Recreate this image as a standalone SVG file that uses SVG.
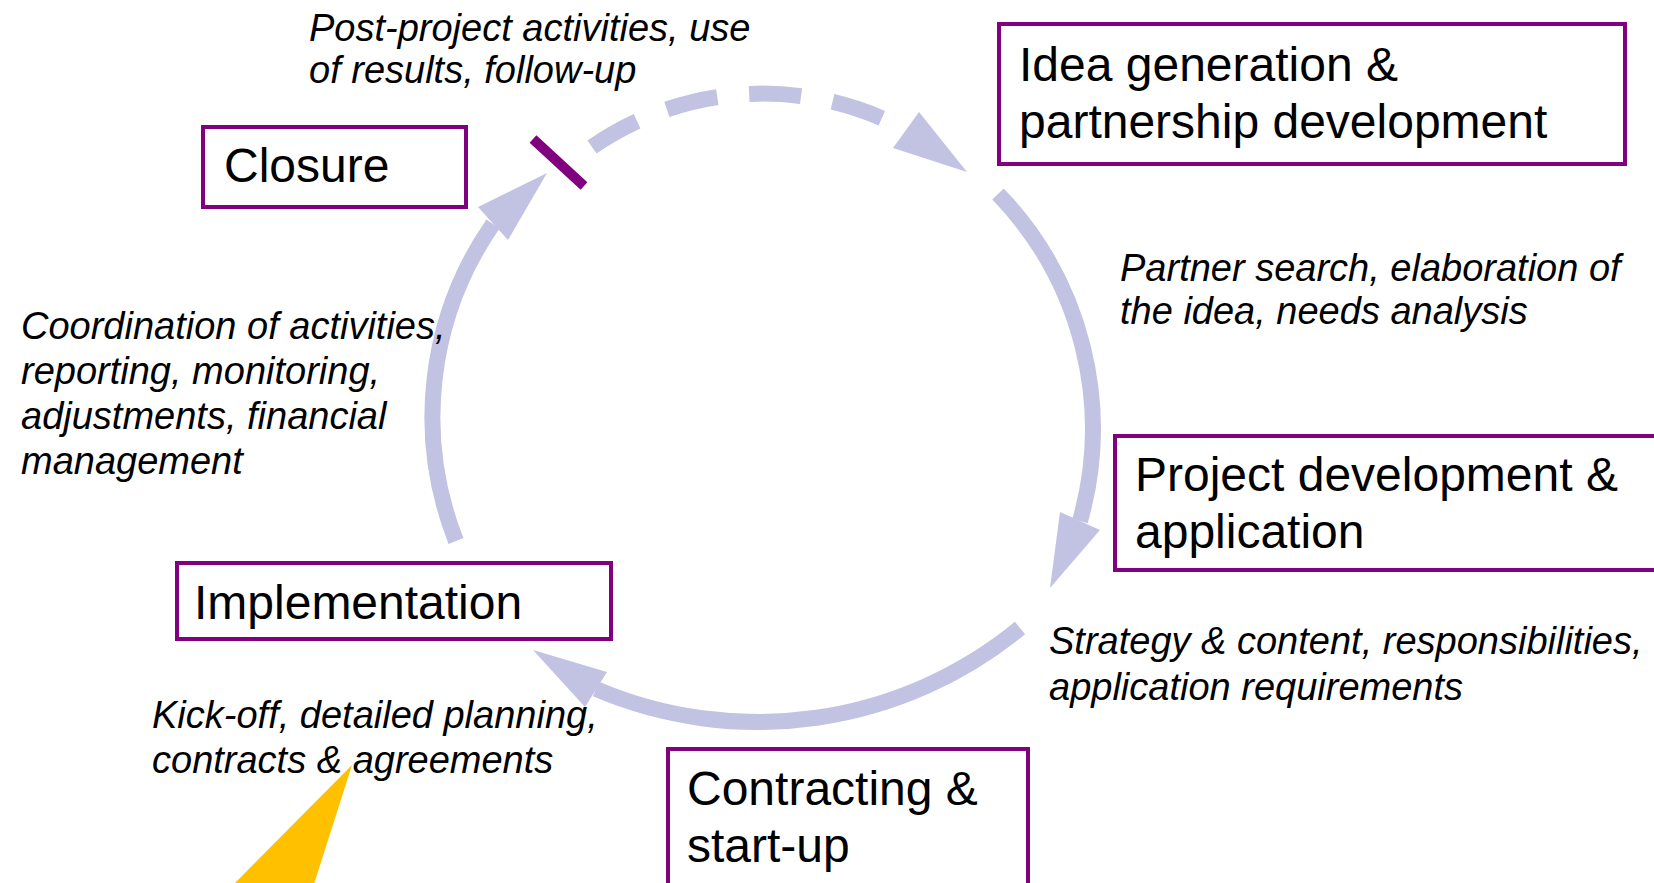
<svg xmlns="http://www.w3.org/2000/svg" width="1654" height="883" viewBox="0 0 1654 883">
<style>
.box{fill:#ffffff;stroke:#800080;stroke-width:4}
.t{font-family:"Liberation Sans",Arial,sans-serif;font-size:48px;fill:#000000}
.n{font-family:"Liberation Sans",Arial,sans-serif;font-size:38px;font-style:italic;fill:#000000}
.arc{fill:none;stroke:#C2C2E2;stroke-width:16}
.dash{stroke-dasharray:52 32}
.ah{fill:#C2C2E2}
</style>
<rect x="0" y="0" width="1654" height="883" fill="#ffffff"/>
<g id="connectors">
  <path class="arc dash" d="M592,147 A300,300 0 0,1 906,130"/>
  <polygon class="ah" points="967,172 919,112 893,148"/>
  <path class="arc" d="M998,194 A338,338 0 0,1 1080,521"/>
  <polygon class="ah" points="1050,588 1060,512 1100,530"/>
  <path class="arc" d="M1020,628 A413,413 0 0,1 596,689"/>
  <polygon class="ah" points="533,650 607,672 585,707"/>
  <path class="arc" d="M456,541 A338,338 0 0,1 493,224"/>
  <polygon class="ah" points="547,173 478,207 508,240"/>
  <line x1="533" y1="139" x2="584" y2="186" stroke="#800080" stroke-width="10"/>
</g>
<g id="closure">
  <rect class="box" x="203" y="127" width="263" height="80"/>
  <text class="t" x="224" y="182">Closure</text>
</g>
<g id="idea">
  <rect class="box" x="999" y="24" width="626" height="140"/>
  <text class="t" x="1019" y="81">Idea generation &amp;</text>
  <text class="t" x="1019" y="138">partnership development</text>
</g>
<g id="project">
  <rect class="box" x="1115" y="436" width="600" height="134"/>
  <text class="t" x="1135" y="491">Project development &amp;</text>
  <text class="t" x="1135" y="548">application</text>
</g>
<g id="contracting">
  <rect class="box" x="668" y="749" width="360" height="200"/>
  <text class="t" x="687" y="805">Contracting &amp;</text>
  <text class="t" x="687" y="862">start-up</text>
</g>
<g id="implementation">
  <rect class="box" x="177" y="563" width="434" height="76"/>
  <text class="t" x="194" y="619">Implementation</text>
</g>
<g id="note-post">
  <text class="n" x="309" y="41">Post-project activities, use</text>
  <text class="n" x="309" y="83">of results, follow-up</text>
</g>
<g id="note-partner">
  <text class="n" x="1120" y="281">Partner search, elaboration of</text>
  <text class="n" x="1120" y="324">the idea, needs analysis</text>
</g>
<g id="note-strategy">
  <text class="n" x="1049" y="654">Strategy &amp; content, responsibilities,</text>
  <text class="n" x="1049" y="700">application requirements</text>
</g>
<g id="note-kickoff">
  <text class="n" x="152" y="728">Kick-off, detailed planning,</text>
  <text class="n" x="152" y="773">contracts &amp; agreements</text>
</g>
<g id="note-coordination">
  <text class="n" x="21" y="339">Coordination of activities,</text>
  <text class="n" x="21" y="384">reporting, monitoring,</text>
  <text class="n" x="21" y="429">adjustments, financial</text>
  <text class="n" x="21" y="474">management</text>
</g>
<polygon id="pointer" points="352,765 234,884 314,884" fill="#FFC000"/>
</svg>
